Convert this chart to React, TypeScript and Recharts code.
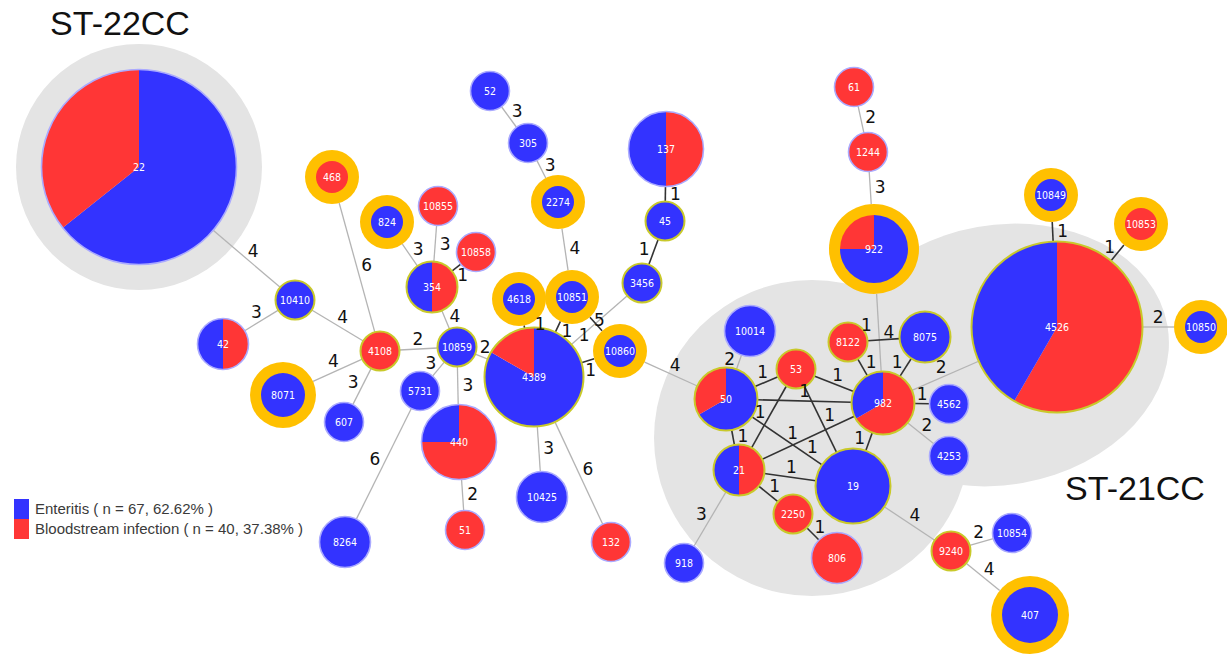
import { ScatterChart, Scatter, XAxis, YAxis } from 'recharts'

const W = 1227
const H = 654

const BLUE = '#3333ff'
const RED = '#ff3636'
const RING = '#ffc000'
const HALO = '#e4e4e4'

// sequence types, layout position, isolate counts
const stNames = ['22', '468', '824', '10410', '42', '4108', '8071', '607', '8264', '5731', '10859', '354', '10855', '10858', '440', '51', '4389', '10425', '132', '4618', '10851', '2274', '305', '52', '3456', '45', '137', '10860', '10014', '50', '53', '21', '2250', '918', '806', '19', '982', '8122', '8075', '4562', '4253', '922', '1244', '61', '4526', '10849', '10853', '10850', '9240', '10854', '407']
const stX = [139, 332, 387, 295, 223, 380, 283, 344, 345, 420, 457, 432, 438, 476, 459, 465, 534, 542, 611, 519, 572, 558, 528, 490, 642, 665, 666, 620, 750, 726, 796, 739, 793, 684, 837, 853, 883, 848, 925, 949, 949, 874, 868, 854, 1057, 1051, 1141, 1201, 951, 1012, 1030]
const stY = [167, 177, 222, 300, 344, 351, 395, 422, 542, 391, 347, 287, 206, 252, 442, 530, 377, 497, 542, 299, 297, 202, 143, 91, 283, 221, 149, 351, 331, 399, 369, 470, 514, 563, 558, 486, 403, 342, 337, 404, 456, 249, 152, 87, 327, 195, 224, 327, 551, 533, 615]
const enteritis = [9, 0, 1, 1, 1, 0, 2, 1, 2, 1, 1, 1, 0, 0, 1, 0, 5, 2, 0, 1, 1, 1, 1, 1, 1, 1, 2, 1, 2, 2, 0, 1, 0, 1, 0, 4, 1, 0, 2, 1, 1, 3, 0, 0, 5, 1, 0, 1, 0, 1, 3]
const bloodstream = [5, 1, 0, 0, 1, 1, 0, 0, 0, 0, 0, 1, 1, 1, 3, 1, 1, 0, 1, 0, 0, 0, 0, 0, 0, 0, 2, 0, 0, 1, 1, 1, 1, 0, 2, 0, 2, 1, 0, 0, 0, 1, 1, 1, 7, 0, 1, 0, 1, 0, 0]

// STs newly found (orange ring) and STs inside a linked group (yellow outline)
const newST = ['468', '824', '8071', '4618', '10851', '2274', '10860', '922', '10849', '10853', '10850', '407']
const linkedST = ['10410', '4108', '354', '10859', '4389', '45', '3456', '50', '53', '21', '2250', '982', '8122', '8075', '19', '4526', '9240']

// allelic distance between linked STs
const edges: [string, string, number][] = [
  ['22', '10410', 4], ['10410', '42', 3], ['10410', '4108', 4], ['4108', '468', 6], ['4108', '8071', 4],
  ['4108', '607', 3], ['4108', '10859', 2], ['10859', '354', 4], ['354', '824', 3], ['354', '10855', 3],
  ['354', '10858', 1], ['10859', '5731', 3], ['10859', '440', 3], ['10859', '4389', 2], ['5731', '8264', 6],
  ['440', '51', 2], ['4389', '10425', 3], ['4389', '132', 6], ['4389', '4618', 1], ['4389', '10851', 1],
  ['4389', '3456', 5], ['10851', '10860', 1], ['4389', '10860', 1], ['10851', '2274', 4], ['2274', '305', 3],
  ['305', '52', 3], ['3456', '45', 1], ['45', '137', 1], ['10860', '50', 4], ['50', '10014', 2],
  ['50', '53', 1], ['50', '982', 1], ['50', '19', 1], ['50', '21', 1], ['53', '21', 1],
  ['53', '19', 1], ['53', '982', 1], ['21', '982', 1], ['21', '19', 1], ['21', '2250', 1],
  ['21', '918', 3], ['2250', '806', 1], ['982', '19', 1], ['982', '8122', 1], ['982', '922', 4],
  ['982', '8075', 1], ['8122', '8075', 1], ['982', '4562', 1], ['982', '4253', 2], ['982', '4526', 2],
  ['922', '1244', 3], ['1244', '61', 2], ['4526', '10849', 1], ['4526', '10853', 1], ['4526', '10850', 2],
  ['19', '9240', 4], ['9240', '10854', 2], ['9240', '407', 4],
]

// clonal complex shading
const halos = [
  { x: 139, y: 167, rx: 123, ry: 123, rot: 0 },
  { x: 1000, y: 355, rx: 170, ry: 130, rot: -10 },
  { x: 812, y: 438, rx: 158, ry: 158, rot: 0 },
]
const ccTitles = [
  { x: 120, y: 35, text: 'ST-22CC' },
  { x: 1135, y: 500, text: 'ST-21CC' },
]

const nodeR = (n: number) => 13.5 + 6 * n

const nodes = stNames.map((name, i) => {
  const b = enteritis[i]
  const rd = bloodstream[i]
  const ring = newST.includes(name)
  const r = nodeR(b + rd)
  return { name, x: stX[i], y: stY[i], b, rd, ring, linked: linkedST.includes(name), r, outer: ring ? r + 7.5 : r }
})
const byName: Record<string, (typeof nodes)[number]> = {}
nodes.forEach((n) => (byName[n.name] = n))

// keep the distance labels clear of each other and of the nodes
const placed: { x: number; y: number }[] = []
const clearance = (p: { x: number; y: number }) =>
  Math.min(
    ...placed.map((q) => Math.hypot(q.x - p.x, q.y - p.y) - 21),
    ...nodes.map((n) => Math.hypot(n.x - p.x, n.y - p.y) - n.outer - 4),
  )
const OFFS = [
  [10, 0], [-10, 0], [0, 0], [10, 12], [10, -12], [-10, 12], [-10, -12], [0, 16], [0, -16],
  [16, 0], [-16, 0], [16, 16], [16, -16], [-16, 16], [-16, -16], [10, 22], [10, -22],
]

const segs = edges.map(([a, c, d]) => {
  const A = byName[a]
  const B = byName[c]
  const dx = B.x - A.x
  const dy = B.y - A.y
  const len = Math.hypot(dx, dy)
  const ux = dx / len
  const uy = dy / len
  const p1 = { x: A.x + ux * A.outer, y: A.y + uy * A.outer }
  const p2 = { x: B.x - ux * B.outer, y: B.y - uy * B.outer }
  let nx = -uy
  let ny = ux
  if (Math.abs(ny) < 0.2 ? nx < 0 : ny > 0) {
    nx = -nx
    ny = -ny
  }
  const mx = (p1.x + p2.x) / 2
  const my = (p1.y + p2.y) / 2
  const tries = OFFS.map(([o, s]) => ({ x: mx + nx * o + ux * s, y: my + ny * o + uy * s }))
  let spot = tries.find((p) => clearance(p) >= 0)
  if (!spot) spot = tries.reduce((best, p) => (clearance(p) > clearance(best) ? p : best), tries[0])
  placed.push(spot)
  return { key: `${a}-${c}`, pts: [p1, p2], d, label: { ...spot, d } }
})

const pt = (cx: number, cy: number, r: number, a: number) => [cx + r * Math.sin(a), cy - r * Math.cos(a)]

const sector = (cx: number, cy: number, r: number, a0: number, a1: number, fill: string, key: string) => {
  const [x0, y0] = pt(cx, cy, r, a0)
  const [x1, y1] = pt(cx, cy, r, a1)
  const large = a1 - a0 > Math.PI ? 1 : 0
  return <path key={key} d={`M${cx},${cy} L${x0},${y0} A${r},${r} 0 ${large} 1 ${x1},${y1} Z`} fill={fill} />
}

const NodeShape = (props: any) => {
  const { cx, cy, payload } = props
  const { b, rd, ring, linked, r, name } = payload
  const pr = ring ? r - 3.5 : r
  const total = b + rd
  const parts = rd >= b ? [[rd, RED], [b, BLUE]] : [[b, BLUE], [rd, RED]]
  let a = 0
  const slices: any[] = []
  parts.forEach(([v, c], i) => {
    if (!v) return
    const span = ((v as number) / total) * Math.PI * 2
    if (span >= Math.PI * 2 - 1e-6) slices.push(<circle key={i} cx={cx} cy={cy} r={pr} fill={c as string} />)
    else slices.push(sector(cx, cy, pr, a, a + span, c as string, String(i)))
    a += span
  })
  return (
    <g>
      {ring && <circle cx={cx} cy={cy} r={r + 7.5} fill={RING} />}
      {slices}
      {!ring && (
        <circle cx={cx} cy={cy} r={pr} fill="none" stroke={linked ? '#c9c92a' : '#aaaaff'} strokeWidth={linked ? 2 : 1.6} />
      )}
      <text x={cx} y={cy} fill="#fff" textAnchor="middle" dominantBaseline="central"
        fontFamily="'DejaVu Sans Condensed', 'DejaVu Sans', sans-serif" fontSize={10.5}>
        {name}
      </text>
    </g>
  )
}

const HaloShape = (props: any) => {
  const { cx, cy, payload } = props
  return <ellipse cx={cx} cy={cy} rx={payload.rx} ry={payload.ry} fill={HALO} transform={`rotate(${payload.rot} ${cx} ${cy})`} />
}

const EdgeLabel = (props: any) => (
  <text x={props.cx} y={props.cy} textAnchor="middle" dominantBaseline="central" fill="#111"
    fontFamily="'DejaVu Sans', sans-serif" fontSize={17}>
    {props.payload.d}
  </text>
)

const TitleShape = (props: any) => (
  <text x={props.cx} y={props.cy} textAnchor="middle" fill="#111" fontFamily="'Liberation Sans', Arial, sans-serif" fontSize={34}>
    {props.payload.text}
  </text>
)

const Empty = () => <g />

export default function App() {
  return (
    <div style={{ position: 'absolute', left: 0, top: 0, width: W, height: H, background: '#fff' }}>
      <ScatterChart width={W} height={H} margin={{ top: 0, right: 0, bottom: 0, left: 0 }}>
        <XAxis type="number" dataKey="x" domain={[0, W]} allowDataOverflow hide />
        <YAxis type="number" dataKey="y" domain={[0, H]} allowDataOverflow reversed hide />
        <Scatter data={halos} shape={HaloShape} isAnimationActive={false} />
        {segs.map((s) => (
          <Scatter key={s.key} data={s.pts} shape={Empty} isAnimationActive={false}
            line={{ stroke: s.d === 1 ? '#333' : '#b4b4b4', strokeWidth: s.d === 1 ? 1.6 : 1.3 }} />
        ))}
        <Scatter data={nodes} shape={NodeShape} isAnimationActive={false} />
        <Scatter data={segs.map((s) => s.label)} shape={EdgeLabel} isAnimationActive={false} />
        <Scatter data={ccTitles} shape={TitleShape} isAnimationActive={false} />
      </ScatterChart>
      <div style={{ position: 'absolute', left: 14, top: 499, fontFamily: "'Liberation Sans', Arial, sans-serif", fontSize: 15, color: '#3a3a3a', lineHeight: '20px' }}>
        <div style={{ display: 'flex', alignItems: 'center' }}>
          <span style={{ width: 15, height: 20, background: BLUE, marginRight: 6 }} />
          Enteritis ( n = 67, 62.62% )
        </div>
        <div style={{ display: 'flex', alignItems: 'center' }}>
          <span style={{ width: 15, height: 20, background: RED, marginRight: 6 }} />
          Bloodstream infection ( n = 40, 37.38% )
        </div>
      </div>
    </div>
  )
}
